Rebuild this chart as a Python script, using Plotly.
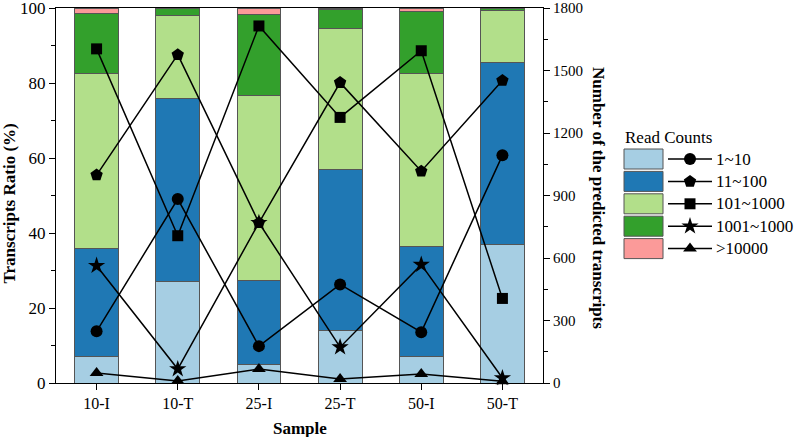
import plotly.graph_objects as go

samples = ["10-I", "10-T", "25-I", "25-T", "50-I", "50-T"]
categories = ["1~10", "11~100", "101~1000", "1001~1000", ">10000"]

# Stacked bar ratios (%)
ratio_1_10 = [7.0, 27.0, 5.0, 14.0, 7.1, 37.0]
ratio_11_100 = [29.0, 49.0, 22.3, 43.0, 29.2, 48.5]
ratio_101_1000 = [46.5, 22.0, 49.3, 37.6, 46.2, 13.8]
ratio_1001_10000 = [16.0, 2.0, 21.6, 5.0, 16.5, 0.7]
ratio_gt_10000 = [1.5, 0.0, 1.8, 0.4, 1.0, 0.0]

# Number of predicted transcripts (right axis)
num_1_10 = [248, 883, 177, 473, 244, 1093]
num_11_100 = [998, 1576, 769, 1442, 1017, 1452]
num_101_1000 = [1604, 707, 1714, 1275, 1595, 406]
num_1001_10000 = [563, 67, 769, 172, 568, 24]
num_gt_10000 = [48, 10, 67, 19, 43, 8]

colors = ["#a6cee3", "#1f78b4", "#b2df8a", "#33a02c", "#fb9a99"]
symbols = ["circle", "pentagon", "square", "star", "triangle-up"]
marker_sizes = [12, 13, 11, 13, 12]

ratios = [ratio_1_10, ratio_11_100, ratio_101_1000, ratio_1001_10000, ratio_gt_10000]
nums = [num_1_10, num_11_100, num_101_1000, num_1001_10000, num_gt_10000]

FONT = "Liberation Serif, Times New Roman, serif"
W, H = 797, 437
ML, MR, MT, MB = 56, 4, 8, 54
plot_right = 543
plot_bottom = H - MB
ph = H - MT - MB
pw = W - ML - MR
dom_end = (plot_right - ML) / pw

fig = go.Figure()

for r, c, name in zip(ratios, colors, categories):
    fig.add_trace(go.Bar(
        x=samples, y=r, name=name, marker=dict(color=c, line=dict(color="#555555", width=1)),
        width=0.54, xaxis="x", yaxis="y", showlegend=False,
    ))

for n, s, ms, name in zip(nums, symbols, marker_sizes, categories):
    fig.add_trace(go.Scatter(
        x=samples, y=n, name=name, mode="lines+markers",
        line=dict(color="black", width=1.5),
        marker=dict(symbol=s, size=ms, color="black"),
        xaxis="x", yaxis="y2", showlegend=False, cliponaxis=False,
    ))

# Custom legend drawn on a helper axis using pixel-like coordinates
lx0, lx1 = 600, W - MR
leg_dom0 = (lx0 - ML) / pw
row_y0 = 159
row_dy = 22.4
shapes = []
annotations = []
for i, (c, s, ms, name) in enumerate(zip(colors, symbols, marker_sizes, categories)):
    yc = row_y0 + i * row_dy
    shapes.append(dict(type="rect", xref="x3", yref="y3", x0=624, x1=663, y0=yc - 10, y1=yc + 10,
                       fillcolor=c, line=dict(color="#555555", width=1)))
    fig.add_trace(go.Scatter(x=[668, 712], y=[yc, yc], mode="lines", line=dict(color="black", width=1.5),
                             xaxis="x3", yaxis="y3", showlegend=False, hoverinfo="skip"))
    fig.add_trace(go.Scatter(x=[690], y=[yc], mode="markers", marker=dict(symbol=s, size=ms, color="black"),
                             xaxis="x3", yaxis="y3", showlegend=False, hoverinfo="skip"))
    annotations.append(dict(x=714, y=yc, xref="x3", yref="y3", text=name, showarrow=False,
                            xanchor="left", yanchor="middle", font=dict(family=FONT, size=17, color="black")))
annotations.append(dict(x=623, y=137, xref="x3", yref="y3", text="Read Counts", showarrow=False,
                        xanchor="left", yanchor="middle", font=dict(family=FONT, size=17, color="black")))

# Axis titles
annotations.append(dict(x=(9.5 - ML) / pw, y=(plot_bottom - 204) / ph, xref="paper", yref="paper",
                        text="<b>Transcripts Ratio (%)</b>", textangle=-90, showarrow=False,
                        xanchor="center", yanchor="middle", font=dict(family=FONT, size=17, color="black")))
annotations.append(dict(x=(598 - ML) / pw, y=(plot_bottom - 198) / ph, xref="paper", yref="paper",
                        text="<b>Number of the predicted transcripts</b>", textangle=90, showarrow=False,
                        xanchor="center", yanchor="middle", font=dict(family=FONT, size=17, color="black")))
annotations.append(dict(x=(300 - ML) / pw, y=(plot_bottom - 428) / ph, xref="paper", yref="paper",
                        text="<b>Sample</b>", showarrow=False,
                        xanchor="center", yanchor="middle", font=dict(family=FONT, size=17, color="black")))

fig.update_layout(
    width=W, height=H,
    font=dict(family=FONT, size=16, color="black"),
    margin=dict(l=ML, r=MR, t=MT, b=MB, autoexpand=False),
    paper_bgcolor="white", plot_bgcolor="white",
    barmode="stack",
    showlegend=False,
    shapes=shapes, annotations=annotations,
    xaxis=dict(domain=[0, dom_end], range=[-0.5, 5.5], type="category", automargin=False,
               showline=True, linecolor="black", linewidth=1, mirror=True,
               ticks="outside", ticklen=6, tickcolor="black",
               tickfont=dict(family=FONT, size=16, color="black"),
               minor=dict(ticks="outside", ticklen=4, tickcolor="black", tick0=0.5, dtick=1),
               showgrid=False, zeroline=False, fixedrange=True),
    yaxis=dict(domain=[0, 1], range=[0, 100.01], tickvals=[0, 20, 40, 60, 80, 100], automargin=False,
               showline=True, linecolor="black", linewidth=1, ticklabeloverflow="allow",
               ticks="outside", ticklen=6, tickcolor="black",
               tickfont=dict(family=FONT, size=17, color="black"),
               minor=dict(ticks="outside", ticklen=4, tickcolor="black", dtick=10),
               showgrid=False, zeroline=False),
    yaxis2=dict(overlaying="y", side="right", anchor="x", range=[0, 1800.2], automargin=False,
                tickvals=[0, 300, 600, 900, 1200, 1500, 1800], ticklabeloverflow="allow",
                showline=True, linecolor="black", linewidth=1,
                ticks="outside", ticklen=6, tickcolor="black",
                tickfont=dict(family=FONT, size=15, color="black"),
                minor=dict(ticks="outside", ticklen=4, tickcolor="black", dtick=150),
                showgrid=False, zeroline=False),
    xaxis3=dict(domain=[leg_dom0, 1], range=[lx0, lx1], visible=False, fixedrange=True),
    yaxis3=dict(domain=[0, 1], range=[plot_bottom, MT], visible=False,
                anchor="x3", fixedrange=True),
)

fig.write_html("out.html", config={"displayModeBar": False},
               post_script="document.body.style.margin='0px';document.body.style.overflow='hidden';")
